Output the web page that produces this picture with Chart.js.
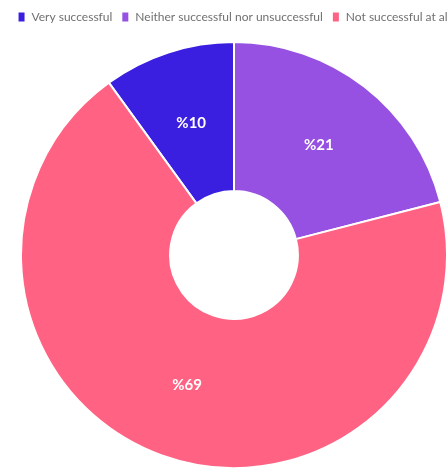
<!DOCTYPE html>
<html>
<head>
<meta charset="utf-8">
<script src="https://cdn.jsdelivr.net/npm/chart.js@4/dist/chart.umd.min.js"></script>
<style>
  html, body { margin: 0; padding: 0; background: #ffffff; overflow: hidden; }
  #wrap { width: 447px; height: 469px; overflow: hidden; position: relative; }
  canvas { position: absolute; left: 0; top: -4px; }
</style>
</head>
<body>
<div id="wrap"><canvas id="pieChart" width="468" height="473"></canvas></div>
<script>
// Datos de la encuesta
const categorias = ['Very successful', 'Neither successful nor unsuccessful', 'Not successful at all'];
const valores = [10, 21, 69];
const etiquetas = ['%10', '%21', '%69'];
const colores = ['#3a1fe0', '#9650e2', '#ff6282'];

// Etiquetas blancas dentro de cada segmento
const etiquetasPlugin = {
    id: 'etiquetas',
    afterDatasetsDraw(chart) {
        const ctx = chart.ctx;
        const meta = chart.getDatasetMeta(0);
        ctx.save();
        ctx.fillStyle = '#ffffff';
        ctx.font = 'bold 15px Lato, "Open Sans", sans-serif';
        ctx.textAlign = 'center';
        ctx.textBaseline = 'middle';
        meta.data.forEach((arc, i) => {
            const pos = arc.tooltipPosition();
            ctx.fillText(etiquetas[i], pos.x, pos.y);
        });
        ctx.restore();
    }
};

// Empujar el área del gráfico hacia abajo sin mover la leyenda
const espacioPlugin = {
    id: 'espacio',
    afterInit(chart) {
        const legend = chart.legend;
        const fitOrig = legend.fit;
        legend.fit = function () {
            fitOrig.call(this);
            this.height += 8;
        };
    }
};

const ctx = document.getElementById('pieChart').getContext('2d');
new Chart(ctx, {
    type: 'doughnut',
    data: {
        labels: categorias,
        datasets: [{
            data: valores,
            backgroundColor: colores,
            borderColor: '#ffffff',
            borderWidth: 2,
            hoverOffset: 0
        }]
    },
    options: {
        responsive: false,
        animation: false,
        devicePixelRatio: 1,
        rotation: -36,
        cutout: '30%',
        layout: { padding: { top: 6 } },
        plugins: {
            legend: {
                position: 'top',
                labels: {
                    color: '#707070',
                    boxWidth: 8,
                    boxHeight: 11,
                    padding: 9,
                    font: { family: 'Lato, "Open Sans", sans-serif', size: 12 }
                }
            },
            tooltip: { enabled: false }
        }
    },
    plugins: [etiquetasPlugin, espacioPlugin]
});
</script>
</body>
</html>
